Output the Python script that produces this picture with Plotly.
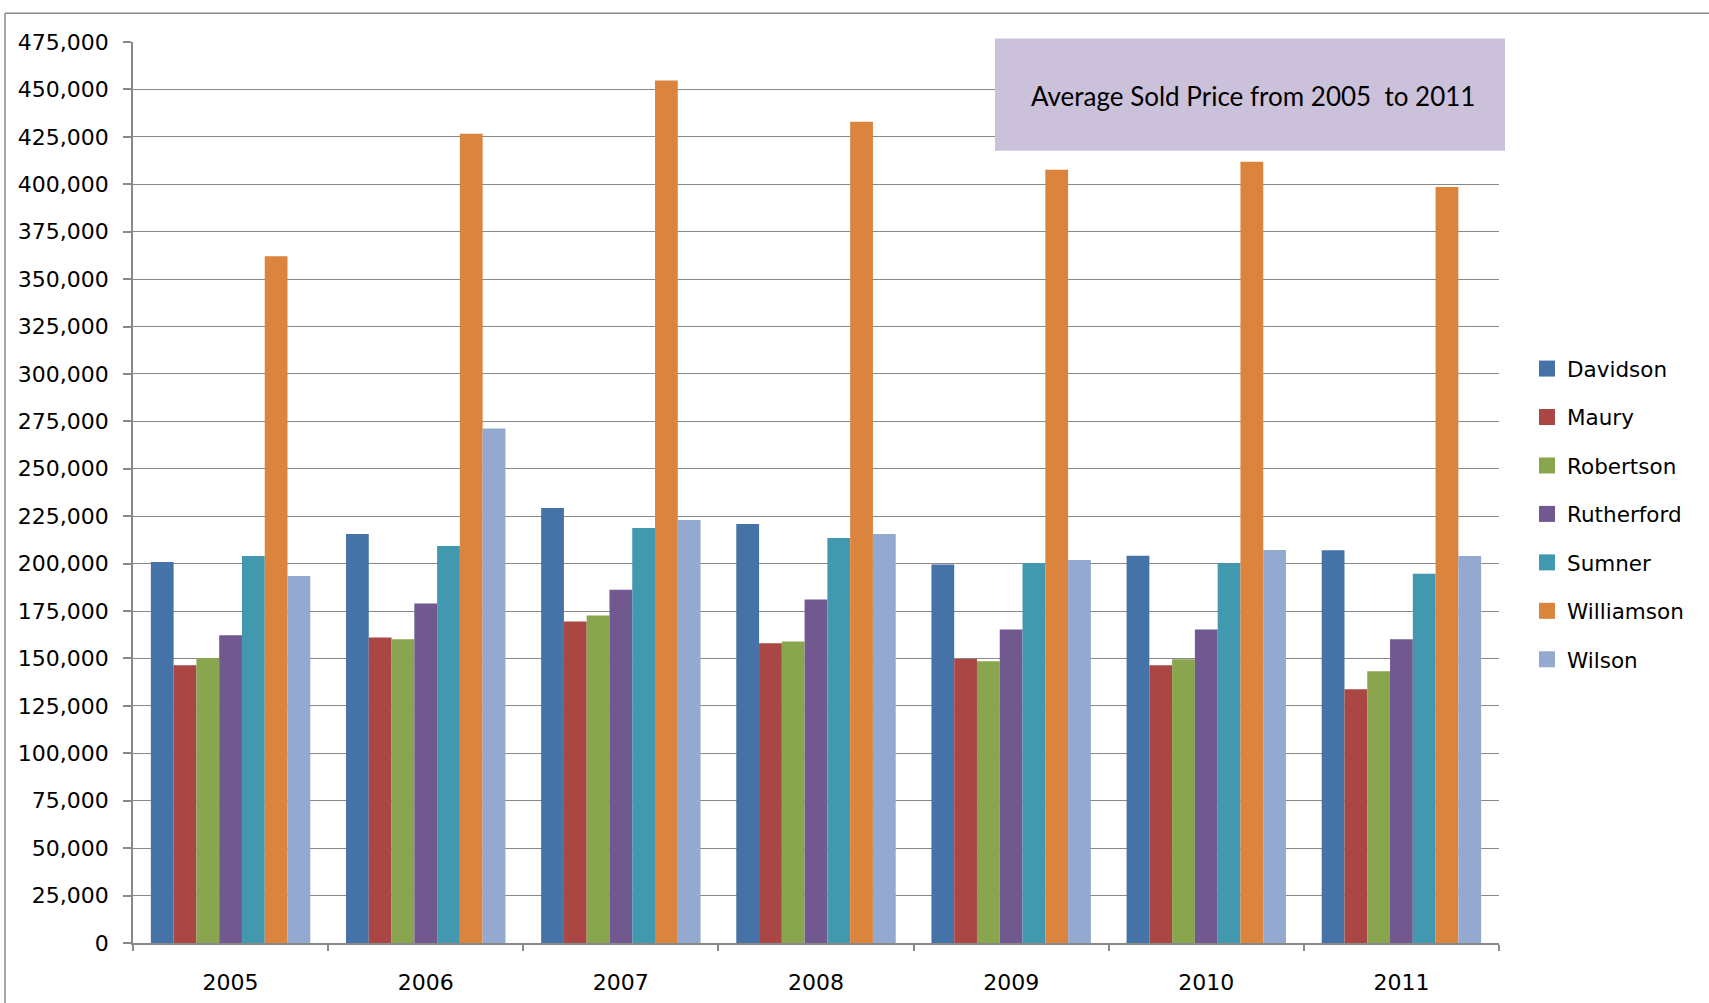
import plotly.graph_objects as go

years = ["2005", "2006", "2007", "2008", "2009", "2010", "2011"]
counties = ["Davidson", "Maury", "Robertson", "Rutherford", "Sumner", "Williamson", "Wilson"]
davidson = [200900, 215600, 229300, 220900, 199500, 204200, 207000]
maury = [146400, 161100, 169500, 158000, 149700, 146400, 133800]
robertson = [150300, 160100, 172700, 159000, 148500, 149600, 143200]
rutherford = [162200, 179000, 186200, 181100, 165300, 165300, 160100]
sumner = [204000, 209300, 218800, 213500, 200300, 200300, 194600]
williamson = [362000, 426600, 454700, 432900, 407700, 411900, 398500]
wilson = [193500, 271300, 223000, 215600, 201900, 207200, 204000]
series = [davidson, maury, robertson, rutherford, sumner, williamson, wilson]
colors = ["#4572A7", "#AA4643", "#89A54E", "#71588F", "#4198AF", "#DB843D", "#93A9CF"]
y_ticks = list(range(0, 475001, 25000))
title_text = "Average Sold Price from 2005  to 2011"

W, H = 1709, 1003
L, R, T, B = 133, 1499, 41.7, 943.3
pw, ph = R - L, B - T

def px(x):
    return (x - L) / pw

def py(y):
    return (B - y) / ph

fig = go.Figure()
for name, vals, col in zip(counties, series, colors):
    fig.add_trace(go.Bar(x=years, y=vals, name=name, marker_color=col,
                         marker_line_width=0, showlegend=False))
for name, col in zip(counties, colors):
    fig.add_trace(go.Scatter(x=[None], y=[None], mode="markers", name=name,
                             legendgroup=name,
                             marker=dict(symbol="square", size=16, color=col)))

grid = "#888888"
fig.update_layout(
    width=W, height=H,
    margin=dict(l=L, r=W - R, t=T, b=H - B, pad=0, autoexpand=False),
    paper_bgcolor="white", plot_bgcolor="white",
    barmode="group", bargap=0.183, bargroupgap=0,
    font=dict(family="DejaVu Sans", size=22, color="black"),
    showlegend=True,
    legend=dict(x=px(1527), y=py(348), xanchor="left", yanchor="top",
                font=dict(size=21.5, family="DejaVu Sans"),
                tracegroupgap=17.5, itemsizing="trace", bgcolor="rgba(0,0,0,0)"),
    xaxis=dict(type="category", showgrid=False, showline=True, linecolor=grid, linewidth=1.5,
               ticks="outside", ticklen=6, tickcolor=grid, tickwidth=1.5,
               tickson="boundaries", ticklabelstandoff=19, automargin=False,
               tickfont=dict(size=22)),
    yaxis=dict(range=[0, 475000], tickvals=y_ticks, tickformat=",d",
               showgrid=True, gridcolor=grid, gridwidth=1.4,
               showline=True, linecolor=grid, linewidth=1.5,
               ticks="outside", ticklen=8, tickcolor=grid, tickwidth=1.5,
               ticklabelstandoff=10, zeroline=False, automargin=False,
               tickfont=dict(size=22)),
    shapes=[
        dict(type="rect", xref="paper", yref="paper", layer="above",
             x0=px(995), x1=px(1505), y0=py(150.5), y1=py(38.2),
             fillcolor="#CCC1DA", line=dict(width=0)),
        dict(type="line", xref="paper", yref="paper", layer="above",
             x0=px(5), x1=px(5), y0=py(13), y1=py(1010),
             line=dict(color=grid, width=1.5)),
        dict(type="line", xref="paper", yref="paper", layer="above",
             x0=px(5), x1=px(1720), y0=py(13), y1=py(13),
             line=dict(color=grid, width=1.5)),
    ],
    annotations=[
        dict(text=title_text, xref="paper", yref="paper",
             x=px(1253), y=py(96), xanchor="center", yanchor="middle",
             showarrow=False, font=dict(family="Lato", size=26, color="black")),
    ],
)

fig.write_html("out.html", config={"displayModeBar": False},
               post_script="document.body.style.margin='0';document.body.style.overflow='hidden';")
